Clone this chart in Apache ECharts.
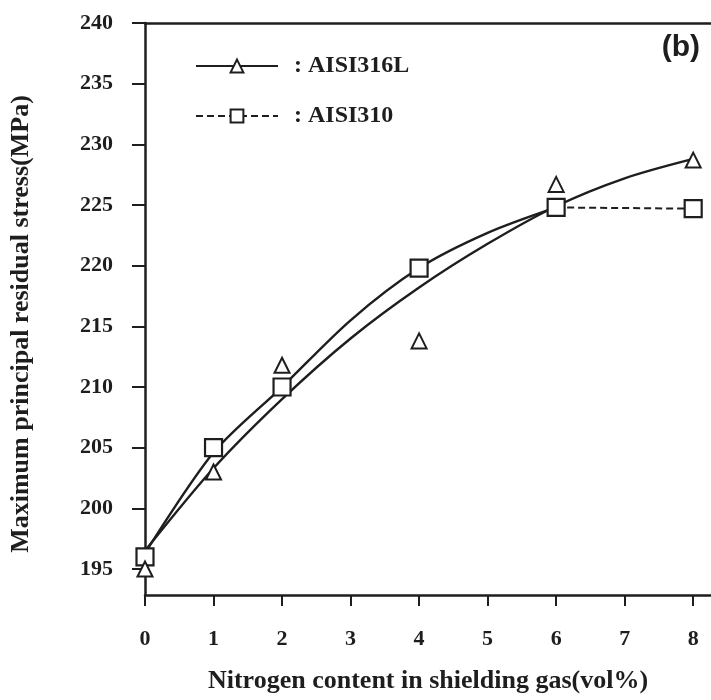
<!DOCTYPE html>
<html>
<head>
<meta charset="utf-8">
<script src="https://cdn.jsdelivr.net/npm/echarts@6/dist/echarts.min.js"></script>
<style>
  html, body { margin: 0; padding: 0; background: #fff; }
  #chart { width: 711px; height: 700px; }
</style>
</head>
<body>
<div id="chart"></div>
<script>
// nitrogen content (vol%)
const xMeasured = [0, 1, 2, 4, 6, 8];
const aisi316L = [195, 203, 211.8, 213.8, 226.7, 228.7];
const aisi310 = [196, 205, 210, 219.8, 224.8, 224.7];
// drawn curves, read at each integer x
const xCurve = [0, 1, 2, 3, 4, 5, 6, 7, 8];
const fit316L = [196.5, 203.3, 209, 214, 218.2, 221.8, 224.9, 227.2, 228.8];
const curve310 = [196.3, 204.6, 210, 215.5, 219.8, 222.7, 224.8];
// tick labels
const xTicks = [0, 1, 2, 3, 4, 5, 6, 7, 8];
const yTicks = [195, 200, 205, 210, 215, 220, 225, 230, 235, 240];

const ink = '#1e1e1e';
const serif = '"Liberation Serif", "DejaVu Serif", serif';

const pairs = (xs, ys) => ys.map((y, i) => [xs[i], y]);
const p316 = pairs(xMeasured, aisi316L);
const p310 = pairs(xMeasured, aisi310);

const chart = echarts.init(document.getElementById('chart'));

const squareStyle = {color: '#fff', borderColor: ink, borderWidth: 2.2, opacity: 1};

const option = {
    backgroundColor: '#fff',
    animation: false,
    title: {
        text: '(b)',
        right: 6,
        top: 28,
        textStyle: {fontFamily: '"Liberation Sans", Arial, sans-serif', fontWeight: 'bold', fontSize: 30, color: ink}
    },
    legend: {
        orient: 'vertical',
        left: 190,
        top: 49,
        itemWidth: 82,
        itemHeight: 16,
        itemGap: 26,
        textStyle: {fontFamily: serif, fontWeight: 'bold', fontSize: 24, color: ink, padding: [0, 0, 0, 11]},
        data: [
            {name: ': AISI316L', lineStyle: {opacity: 1, width: 2, color: ink}},
            {name: ': AISI310', lineStyle: {type: [7, 4], width: 2, color: ink}}
        ]
    },
    grid: {left: 145, top: 23, right: 0, bottom: 105, outerBoundsMode: 'none'},
    xAxis: [{
        type: 'value',
        min: 0,
        max: 8.26,
        name: 'Nitrogen content in shielding gas(vol%)',
        nameLocation: 'middle',
        nameGap: 73,
        nameTextStyle: {fontFamily: serif, fontWeight: 'bold', fontSize: 26, color: ink},
        splitLine: {show: false},
        axisLine: {lineStyle: {color: ink, width: 2.5}},
        axisTick: {customValues: xTicks, length: 11, lineStyle: {color: ink, width: 2}},
        axisLabel: {customValues: xTicks, margin: 33, fontFamily: serif, fontWeight: 'bold', fontSize: 22, color: ink}
    }, {
        type: 'value',
        position: 'top',
        min: 0,
        max: 8.26,
        axisLine: {show: true, lineStyle: {color: ink, width: 2.5}},
        axisTick: {show: false},
        axisLabel: {show: false},
        splitLine: {show: false}
    }],
    yAxis: {
        type: 'value',
        min: 192.86,
        max: 240,
        name: 'Maximum principal residual stress(MPa)',
        nameLocation: 'middle',
        nameGap: 111,
        nameRotate: 90,
        nameTextStyle: {fontFamily: serif, fontWeight: 'bold', fontSize: 26, color: ink, padding: [0, 30, 0, 0]},
        splitLine: {show: false},
        axisLine: {lineStyle: {color: ink, width: 2.5}},
        axisTick: {customValues: yTicks, length: 13, lineStyle: {color: ink, width: 2}},
        axisLabel: {customValues: yTicks, margin: 32, fontFamily: serif, fontWeight: 'bold', fontSize: 22, color: ink}
    },
    series: [
        {
            name: 'fit316L',
            type: 'line',
            smooth: 0.3,
            symbol: 'none',
            data: pairs(xCurve, fit316L),
            lineStyle: {color: ink, width: 2.4},
            z: 2
        },
        {
            name: 'curve310',
            type: 'line',
            smooth: 0.3,
            symbol: 'none',
            data: pairs(xCurve, curve310),
            lineStyle: {color: ink, width: 2.4},
            z: 2
        },
        {
            name: 'points310',
            type: 'scatter',
            symbol: 'rect',
            symbolSize: 17,
            data: p310.slice(0, 4),
            itemStyle: squareStyle,
            z: 3
        },
        {
            name: ': AISI310',
            type: 'line',
            symbol: 'rect',
            symbolSize: 17,
            data: p310.slice(4),
            lineStyle: {color: ink, width: 2, type: [7, 4]},
            itemStyle: squareStyle,
            z: 3
        },
        {
            name: ': AISI316L',
            type: 'line',
            symbol: 'triangle',
            symbolSize: 15,
            data: p316,
            lineStyle: {color: ink, width: 2, opacity: 0},
            itemStyle: {color: '#fff', borderColor: ink, borderWidth: 2},
            z: 4
        }
    ]
};

option && chart.setOption(option);
</script>
</body>
</html>
